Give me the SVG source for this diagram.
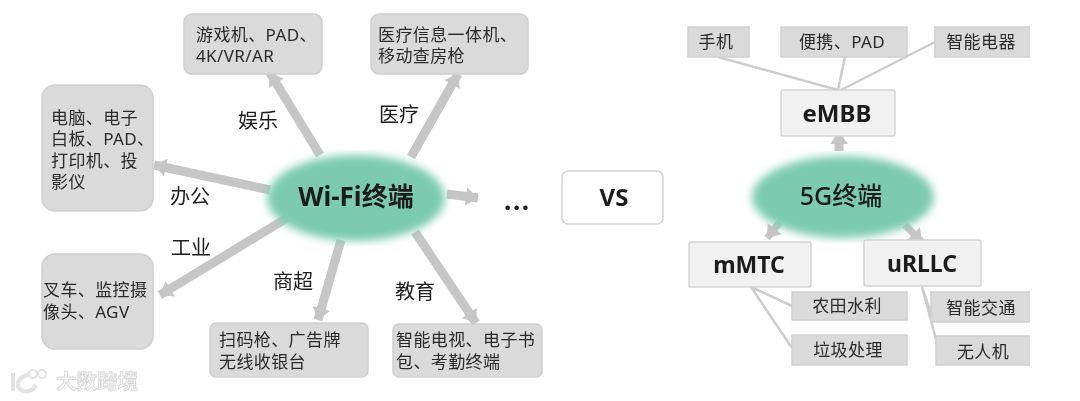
<svg xmlns="http://www.w3.org/2000/svg" width="1080" height="401" viewBox="0 0 1080 401">
<style>
text{font-family:"Noto Sans","Noto Sans CJK SC",sans-serif;fill:#2a2a2a}
g{filter:url(#b)}
.t{font-size:17px;letter-spacing:.4px}
.l{font-size:20px;fill:#1c1c1c}
.h{font-weight:700;font-size:24px;fill:#1c1c1c;text-anchor:middle}
.m{font-size:23px}
.c{text-anchor:middle}
.g{fill:#dadada;stroke:#cfcfcf;stroke-width:1.5}
.w{fill:#f1f1f1;stroke:#d4d4d4;stroke-width:1.5}
.a{stroke:#c6c6c6;stroke-width:9;fill:none;marker-end:url(#ah)}
.a2{stroke:#c6c6c6;stroke-width:7;fill:none;marker-end:url(#ah)}
.n{stroke:#cdcdcd;stroke-width:2.5;fill:none}
.e{fill:#7ccbb0;filter:url(#soft)}
</style>
<defs>
<marker id="ah" markerUnits="userSpaceOnUse" markerWidth="24" markerHeight="24" refX="14" refY="10" orient="auto"><path d="M2 1L14 10L2 19Z" fill="#c6c6c6"/></marker>
<filter id="soft" x="-20%" y="-30%" width="140%" height="160%"><feGaussianBlur stdDeviation="4"/></filter>
<filter id="b" x="-5%" y="-5%" width="110%" height="110%"><feGaussianBlur stdDeviation="0.45"/></filter>
</defs>
<g id="connectors">
<path class="a" d="M320 155L270 73"/>
<path class="a" d="M411 157L458 74"/>
<path class="a" d="M270 190L154 165"/>
<path class="a" d="M287 218L160 295"/>
<path class="a" d="M341 240L318 320"/>
<path class="a" d="M415 232L476 323"/>
<path class="a" d="M447 194L478 198"/>
<path class="a" d="M839 151V132"/>
<path class="a2" d="M780 222L767 238"/>
<path class="a2" d="M905 225L922 242"/>
<path class="n" d="M718 57L838 90M845 57L838 90M935 42L841 90"/>
<path class="n" d="M751 287L792 306M751 287L792 348"/>
<path class="n" d="M922 287L932 316M922 287L937 343"/>
</g>
<g id="wifi"><ellipse class="e" cx="356" cy="198" rx="89" ry="43"/><text class="h" x="356" y="206" style="font-size:26px">Wi-Fi终端</text></g>
<g id="game"><rect class="g" x="184" y="14" width="138" height="60" rx="8"/><text class="t" x="196" y="41">游戏机、PAD、</text><text class="t" x="196" y="62">4K/VR/AR</text></g>
<g id="medical"><rect class="g" x="371" y="14" width="157" height="60" rx="8"/><text class="t" x="378" y="41">医疗信息一体机、</text><text class="t" x="378" y="62">移动查房枪</text></g>
<g id="office"><rect class="g" x="42" y="85" width="111" height="126" rx="13"/><text class="t" x="51" y="124">电脑、电子</text><text class="t" x="51" y="145">白板、PAD、</text><text class="t" x="51" y="167">打印机、投</text><text class="t" x="51" y="188">影仪</text></g>
<g id="industry"><rect class="g" x="42" y="254" width="111" height="95" rx="13"/><text class="t" x="43" y="296">叉车、监控摄</text><text class="t" x="43" y="318">像头、AGV</text></g>
<g id="retail"><rect class="g" x="210" y="323" width="158" height="54" rx="6"/><text class="t" x="219" y="346">扫码枪、广告牌</text><text class="t" x="219" y="368">无线收银台</text></g>
<g id="edu"><rect class="g" x="393" y="324" width="149" height="53" rx="6"/><text class="t" x="396" y="346">智能电视、电子书</text><text class="t" x="396" y="368">包、考勤终端</text></g>
<g id="labels"><text class="l" x="238" y="128">娱乐</text><text class="l" x="379" y="122">医疗</text><text class="l" x="170" y="204">办公</text><text class="l" x="171" y="255">工业</text><text class="l" x="273" y="289">商超</text><text class="l" x="395" y="299">教育</text></g>
<g id="dots"><text x="504" y="210" style="font-size:26px;font-weight:700;fill:#1c1c1c;letter-spacing:1.6px">...</text></g>
<g id="vs"><rect x="562" y="171" width="101" height="53" rx="6" fill="#fff" stroke="#d4d4d4" stroke-width="1.5"/><text class="h" x="614" y="206">VS</text></g>
<g id="g5"><ellipse class="e" cx="843" cy="197" rx="91" ry="41"/><text class="h" x="841" y="205" style="font-size:25px;font-weight:500">5G终端</text></g>
<g id="embb"><rect class="w" x="781" y="90" width="114" height="46" rx="2"/><text class="h" x="837" y="122">eMBB</text></g>
<g id="mmtc"><rect class="w" x="689" y="242" width="122" height="45" rx="2"/><text class="h m" x="749" y="273">mMTC</text></g>
<g id="urllc"><rect class="w" x="864" y="240" width="117" height="46" rx="2"/><text class="h m" x="922" y="272">uRLLC</text></g>
<g id="phone"><rect class="g" x="688" y="27" width="61" height="30"/><text class="t c" x="716" y="48">手机</text></g>
<g id="portable"><rect class="g" x="781" y="27" width="126" height="30"/><text class="t c" x="842" y="48">便携、PAD</text></g>
<g id="appliance"><path class="g" d="M1030 27H935V57H1030"/><text class="t c" x="981" y="48">智能电器</text></g>
<g id="farm"><rect class="g" x="792" y="292" width="115" height="28"/><text class="t c" x="847" y="312">农田水利</text></g>
<g id="waste"><rect class="g" x="792" y="335" width="115" height="30"/><text class="t c" x="848" y="356">垃圾处理</text></g>
<g id="traffic"><path class="g" d="M1030 292H931V322H1030"/><text class="t c" x="981" y="314">智能交通</text></g>
<g id="drone"><path class="g" d="M1030 336H936V365H1030"/><text class="t c" x="983" y="358">无人机</text></g>
<g id="watermark"><path d="M13 373V391M29 374C17 378 15 386 21 390C27 393 33 391 36 385" fill="none" stroke="#e2e2e2" stroke-width="4"/><circle cx="33" cy="374" r="4" fill="none" stroke="#e2e2e2" stroke-width="2"/><circle cx="42" cy="374" r="4" fill="none" stroke="#e2e2e2" stroke-width="2"/><text x="56" y="389" style="font-size:20.5px;font-weight:700;fill:#f6f6f6;stroke:#d6d6d6;stroke-width:.8">大数跨境</text></g>
</svg>
